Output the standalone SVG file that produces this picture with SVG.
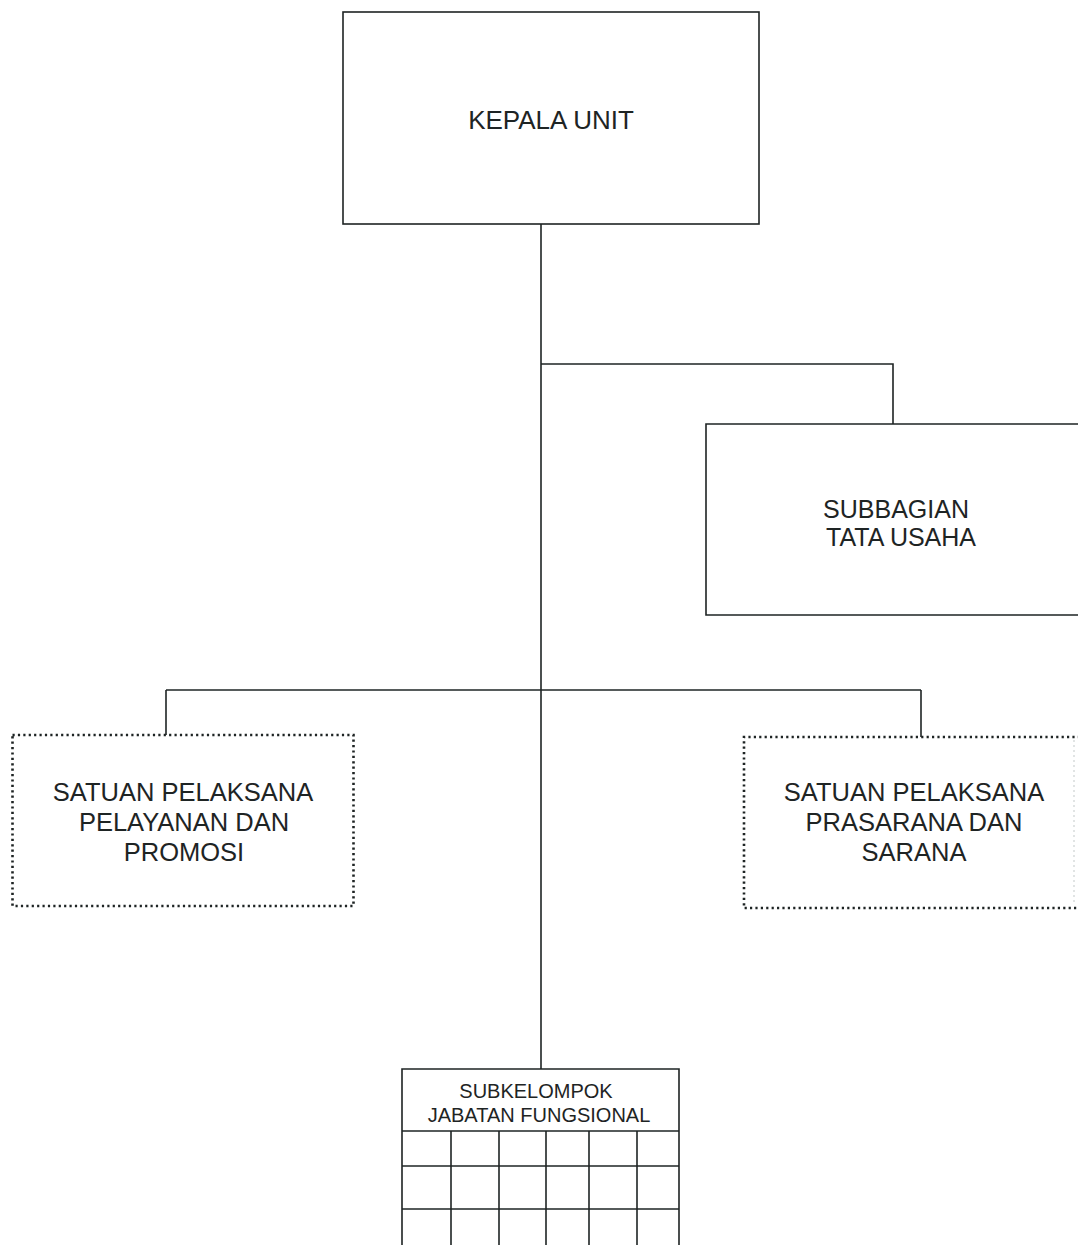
<svg xmlns="http://www.w3.org/2000/svg" width="1078" height="1245" viewBox="0 0 1078 1245">
<style>
.box{fill:none;stroke:#1e2424;stroke-width:1.6}
.dot{fill:none;stroke:#1e2424;stroke-width:2.6;stroke-dasharray:2.2 3.2}
.ln{fill:none;stroke:#1e2424;stroke-width:1.6}
text{font-family:"Liberation Sans",Arial,sans-serif;fill:#1e2424;text-anchor:middle}
.t{font-size:25.5px}
.u{font-size:25px}
.s{font-size:20px}
</style>
<rect width="1078" height="1245" fill="#ffffff"/>
<g id="connectors">
<line class="ln" x1="541" y1="224" x2="541" y2="1069"/>
<polyline class="ln" points="541,364 893,364 893,424"/>
<line class="ln" x1="166" y1="690" x2="921" y2="690"/>
<line class="ln" x1="166" y1="690" x2="166" y2="735"/>
<line class="ln" x1="921" y1="690" x2="921" y2="737"/>
</g>
<g id="kepala-unit">
<rect class="box" x="343" y="12" width="416" height="212"/>
<text x="551" y="129" font-size="26">KEPALA UNIT</text>
</g>
<g id="subbagian-tata-usaha">
<path class="box" d="M1080,424 H706 V615 H1080"/>
<text class="u" x="896" y="518">SUBBAGIAN</text>
<text class="u" x="901" y="546">TATA USAHA</text>
</g>
<g id="satuan-pelayanan">
<rect class="dot" x="12.5" y="735" width="341" height="171"/>
<text class="t" x="183" y="801">SATUAN PELAKSANA</text>
<text class="t" x="184" y="831">PELAYANAN DAN</text>
<text class="t" x="184" y="861">PROMOSI</text>
</g>
<g id="satuan-prasarana">
<path class="dot" d="M1080,737 H744 V908 H1080"/>
<line x1="1074" y1="740" x2="1074" y2="905" stroke="#d8dcdc" stroke-width="1.5" stroke-dasharray="2 3"/>
<text class="t" x="914" y="801">SATUAN PELAKSANA</text>
<text class="t" x="914" y="831">PRASARANA DAN</text>
<text class="t" x="914" y="861">SARANA</text>
</g>
<g id="subkelompok-jabatan-fungsional">
<path class="box" d="M402,1250 V1069 H679 V1250"/>
<line class="ln" x1="402" y1="1131" x2="679" y2="1131"/>
<line class="ln" x1="402" y1="1166" x2="679" y2="1166"/>
<line class="ln" x1="402" y1="1209" x2="679" y2="1209"/>
<line class="ln" x1="451" y1="1131" x2="451" y2="1250"/>
<line class="ln" x1="499" y1="1131" x2="499" y2="1250"/>
<line class="ln" x1="546" y1="1131" x2="546" y2="1250"/>
<line class="ln" x1="589" y1="1131" x2="589" y2="1250"/>
<line class="ln" x1="637" y1="1131" x2="637" y2="1250"/>
<text class="s" x="536" y="1098">SUBKELOMPOK</text>
<text class="s" x="539" y="1122">JABATAN FUNGSIONAL</text>
</g>
</svg>
